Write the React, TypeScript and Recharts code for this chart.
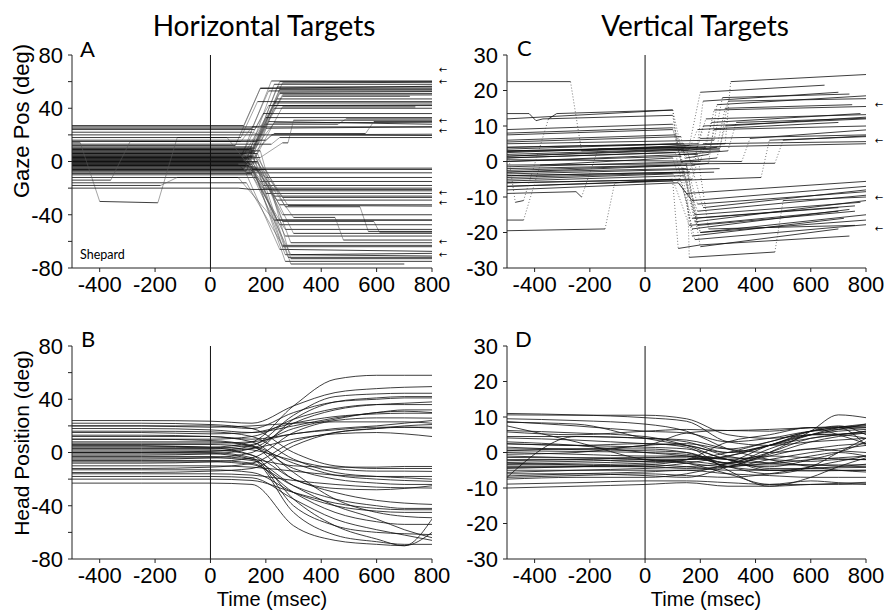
import { LineChart, Line, XAxis, YAxis, ReferenceLine, ReferenceDot } from "recharts";

const FONT = "Liberation Sans, Arial, sans-serif";
const TITLE_FONT = "Lato, 'Open Sans', sans-serif";

const timeTicks = [-400, -200, 0, 200, 400, 600, 800];
const horizTicks = [-80, -60, -40, -20, 0, 20, 40, 60, 80];
const vertTicks = [-30, -20, -10, 0, 10, 20, 30];

// target markers (deg) drawn as arrows right of the gaze panels
const gazeHArrows = [69, 60, 31, 23, -23, -31, -60, -70];
const gazeVArrows = [16, 6, -10, -19];

// gaze traces: time, value pairs
const gazeH: number[][] = [
  [-500, 3, 110, 3, 220, 60.5, 800, 60.5],
  [-500, -2, 130, -2, 250, 60, 800, 60],
  [-500, 8, 150, 8, 260, 59, 800, 59.5],
  [-500, 1, 130, 1, 230, 58, 800, 58],
  [-500, 12, 90, 12, 180, 55, 800, 56.5],
  [-500, 0, 140, 0, 240, 56, 800, 56],
  [-500, 27, 120, 27, 180, 55, 800, 55],
  [-500, -7, 130, -7, 250, 54, 800, 54],
  [-500, 25, 150, 25, 210, 53, 800, 53],
  [-500, -6, 120, -6, 250, 52, 800, 52.5],
  [-500, 9, 140, 9, 250, 51, 800, 51],
  [-500, 5, 140, 5, 260, 50, 800, 50],
  [-500, 15, 170, 15, 260, 49, 720, 49],
  [-500, -4, 150, -4, 240, 47, 800, 47],
  [-500, 18, 110, 18, 170, 45, 800, 45],
  [-500, -3, 130, -3, 230, 44, 800, 44],
  [-500, 10, 150, 10, 230, 42, 800, 42],
  [-500, 24, 160, 24, 210, 42, 800, 42.5],
  [-500, 2, 160, 2, 260, 41, 740, 41],
  [-500, 20, 180, 20, 230, 40, 800, 40],
  [-500, 4, 110, 4, 190, 36, 800, 36],
  [-500, 5, 120, 5, 200, 33, 800, 33],
  [-500, 26, 170, 26, 200, 28, 460, 28, 490, 32, 800, 32],
  [-500, 10, 160, 10, 230, 29, 800, 29.5],
  [-500, -1, 130, -1, 210, 30, 800, 28],
  [-500, 0, 140, 0, 200, 25, 800, 26],
  [-500, 16, 200, 16, 230, 21, 560, 21, 590, 30, 800, 30],
  [-500, 22, 150, 22, 180, 20, 800, 19.5],
  [-500, 7, 160, 7, 220, 20, 800, 20.5],
  [-500, 3, 180, 3, 260, 14, 280, 14, 300, 31, 800, 31],
  [-500, 13, 220, 13, 250, 18, 800, 18],
  [-500, 6, 120, 6, 150, -5, 800, -5],
  [-500, -2, 100, -2, 130, -8.5, 800, -8.5],
  [-500, -3, 140, -3, 200, -12, 800, -12],
  [-500, 1, 130, 1, 180, -15, 800, -15],
  [-500, 1, 120, 1, 190, -18, 800, -18],
  [-500, -9, 150, -9, 190, -20, 800, -20],
  [-500, 3, 140, 3, 220, -22, 800, -22],
  [-500, -12, 170, -12, 200, -24, 800, -24],
  [-500, 6, 130, 6, 230, -26, 800, -26],
  [-500, -1, 170, -1, 260, -27, 800, -27],
  [-500, -8, 160, -8, 240, -29, 800, -29],
  [-500, -4, 160, -4, 250, -32.5, 800, -32.5],
  [-500, 9, 150, 9, 280, -33, 800, -33.5],
  [-500, -6, 200, -6, 270, -34, 540, -34, 570, -52.5, 800, -52.5],
  [-500, 4, 150, 4, 260, -40, 800, -40],
  [-500, 2, 130, 2, 240, -44, 800, -44],
  [-500, 11, 150, 11, 260, -45, 590, -45, 610, -53, 800, -53],
  [-500, -3, 140, -3, 250, -47.5, 800, -47.5],
  [-500, 0, 120, 0, 270, -51, 800, -51],
  [-500, 4, 160, 4, 300, -54, 800, -54],
  [-500, -1, 140, -1, 270, -56, 800, -56],
  [-500, -7, 180, -7, 300, -42, 450, -42, 480, -59, 800, -59],
  [-500, 6, 170, 6, 290, -61, 800, -61],
  [-500, -16, 130, -16, 260, -63, 800, -63],
  [-500, 7, 150, 7, 260, -64, 800, -64],
  [-500, -5, 120, -5, 250, -66, 800, -67.5],
  [-500, 2, 140, 2, 270, -70, 800, -71],
  [-500, -10, 150, -10, 290, -70, 800, -69],
  [-500, -5, 170, -5, 280, -72, 800, -72],
  [-500, 8, 180, 8, 290, -73, 800, -73],
  [-500, -2, 150, -2, 270, -75, 800, -75],
  [-500, 0, 170, 0, 290, -77, 700, -77],
  [-500, 14, -470, 14, -400, -30, -190, -31, -120, 18, 60, 18, 150, -6, 800, -6],
  [-500, -14, -360, -14, -290, 15, 110, 15, 150, 26, 800, 26],
  [-500, -18, -180, -18, -120, -12, 100, -12, 230, -44, 800, -44],
  [-500, -20, 100, -20, 150, -21, 800, -21],
];

const gazeV: number[][] = [
  [-500, 2.5, 150, 4.5, 290, 5, 310, 22.5, 800, 24.5],
  [-500, 22.5, -270, 22.5, -230, 3, 160, 4.5, 200, 19.5, 650, 21.5],
  [-500, -3, 180, -1, 210, 17, 700, 19.5],
  [-500, 5, 250, 6, 280, 18, 740, 19],
  [-500, 1, 270, 3, 300, 17, 800, 17.7],
  [-500, 3.5, 140, 5, 170, -1, 230, -0.5, 260, 16, 800, 18.5],
  [-500, 7.5, 100, 9, 130, 3, 260, 4, 290, 15, 750, 16],
  [-500, 3, 220, 4, 250, 14.5, 800, 15.5],
  [-500, -1.5, 200, 0, 240, 11, 780, 13.5],
  [-500, 12, 100, 14.5, 130, 4, 190, 4, 220, 12, 800, 13.2],
  [-500, 9, 100, 10.5, 140, 2, 300, 3, 330, 11, 800, 12.2],
  [-500, 8, 100, 9.5, 130, 0, 260, 1, 290, 10, 800, 12.5],
  [-500, 4, 190, 5, 210, 10, 800, 12],
  [-500, 1.5, 160, 3.5, 190, 9, 700, 11],
  [-500, 6, 110, 7.5, 150, 1, 230, 2, 250, 9, 800, 10],
  [-500, 0.5, 350, 0, 380, 6.5, 800, 8.9],
  [-500, -1, 470, -0.5, 500, 6, 800, 7.2],
  [-500, -4, 160, -3, 200, 6.5, 800, 7.5],
  [-500, -6, 170, -5, 210, 5, 800, 5.6],
  [-500, -7, 420, -4.5, 450, 6, 800, 7],
  [-500, -5, 100, -3.5, 150, -9, 800, -5.6],
  [-500, -8, 120, -6, 170, -11, 800, -7],
  [-500, -2.5, 150, -1, 190, -12, 800, -8.5],
  [-500, -2, 130, -1, 190, -14, 800, -9.5],
  [-500, 3, 120, 4, 180, -17, 800, -11],
  [-500, -4, 140, -3, 180, -15, 780, -11.5],
  [-500, 0, 130, 1.5, 180, -16, 700, -13],
  [-500, 1, 110, 2.5, 170, -19, 740, -13.5],
  [-500, 5.5, 130, 7, 190, -18, 760, -14],
  [-500, -3, 150, -2, 200, -20, 800, -15],
  [-500, 4, 120, 5, 170, -21, 720, -16],
  [-500, -5.5, 140, -4, 200, -20, 800, -16.5],
  [-500, -6, 130, -5, 180, -22, 800, -17.8],
  [-500, 2, 140, 3.5, 200, -24, 700, -19],
  [-500, -7, 100, -5.5, 120, -24.5, 200, -23.5, 740, -21],
  [-500, 0, 150, 2, 160, -27, 470, -25.5, 500, -11, 800, -10],
  [-500, -9, -250, -8.5, -230, -10, -170, 3.5, 150, 4, 210, -13, 800, -8],
  [-500, -19.5, -145, -19, -110, -6, 100, -5, 160, -18, 700, -14],
  [-500, -16.5, -440, -16.5, -380, -1, 100, 1, 170, -16, 760, -12.5],
  [-500, 4.5, -470, -11.5, -440, -11, -350, 12, -320, 13.5, 100, 14.5, 120, 2, 190, 2, 230, -19, 760, -18],
  [-500, 13.5, -420, 13.5, -395, 11.5, -370, 12, 100, 13, 120, 4, 800, 5],
  [-500, 1.5, 270, 3.5],
  [-500, -3.5, 270, -2],
  [-500, 2.8, 270, 3.8],
  [-500, -4.5, 250, -3],
];

// head traces: values at headTimes
const headTimes = [-500, -250, 0, 150, 300, 450, 600, 700, 800];

const headH: number[][] = [
  [5, 5, 4, 8, 35, 55, 58, 58, 58],
  [24, 24, 23.5, 22, 35, 45, 48, 49, 49.5],
  [0, 0, 1, 5, 28, 42, 44, 44.5, 44.5],
  [-5, -5, -4, 0, 25, 38, 41, 42, 42],
  [20, 20, 20, 18, 30, 38, 40, 41, 41],
  [10, 10, 10, 12, 25, 33, 36, 36, 36],
  [-2, -2, -1, 3, 22, 32, 36, 37, 38],
  [15, 15, 14, 15, 22, 27, 29, 29.5, 29.5],
  [3, 3, 3, 6, 18, 25, 30, 31, 30],
  [-8, -8, -7, -4, 15, 24, 26, 26, 25.8],
  [20, 20, 19, 20, 22, 23, 23, 23, 22],
  [12, 12, 12, 10, 14, 18, 20, 22, 24],
  [7, 7, 7, 8, 14, 17, 19, 19, 18.3],
  [-12, -12, -11, -8, 8, 15, 18, 20, 21],
  [-15, -15, -14, -12, 5, 15, 18, 19, 19],
  [1, 1, 1, 3, 10, 14, 15, 14, 12],
  [18, 18, 17, 15, 20, 26, 30, 32, 32],
  [-3, -3, -3, -5, -10, -11, -11, -10.5, -10.5],
  [5, 5, 4, 2, -6, -12, -14, -14, -14.2],
  [-10, -10, -10, -11, -14, -17, -18, -18, -18],
  [8, 8, 8, 5, -8, -17, -20, -21, -21.7],
  [6, 6, 6, 4, -12, -20, -23, -24, -24],
  [-16, -16, -16, -17, -21, -24, -26, -26.5, -26.7],
  [2, 2, 2, -2, -20, -30, -36, -38, -39],
  [-7, -7, -7, -9, -25, -35, -40, -42, -42],
  [-20, -20, -20, -21, -30, -38, -42, -43, -43],
  [13, 13, 12, 8, -15, -35, -45, -48, -49],
  [-6, -6, -6, -8, -30, -45, -52, -54, -54],
  [0, 0, 0, -4, -40, -55, -60, -61, -61.7],
  [-1, -1, -1, -5, -45, -62, -67, -69, -69],
  [-23, -23, -23, -24, -55, -66, -69, -70, -50],
  [4, 4, 3.5, -2, -35, -55, -65, -70, -60],
  [-13, -13, -13, -15, -30, -40, -44, -45, -45],
  [10, 10, 9, 5, -20, -27, -28, -27, -25],
  [-4, -4, -4, -6, -25, -40, -50, -58, -64],
  [16, 16, 15.5, 12, -5, -15, -18, -19, -20],
  [22, 22, 21, 18, 0, -10, -12, -12, -12],
  [-18, -18, -18, -19, -35, -50, -58, -62, -66],
];

const headV: number[][] = [
  [11, 10.6, 9.8, 8.8, 3, 2, 3, 3.5, 4],
  [10.6, 10.5, 10.5, 9.5, 5, 4, 5, 5.2, 5.5],
  [9.5, 9, 8, 6, 1, -2, -4, -5, -5.5],
  [8.7, 7.5, 6, 5.5, 3, 4, 6, 6.5, 7],
  [8.5, 8, 4, 2, 0, 2, 5, 6.5, 8],
  [6.2, 5.5, 4.5, 2, -2, -3, -2, -1.5, -1],
  [5.8, 5, 6, 6.5, 6.2, 6.5, 7, 7.3, 7.5],
  [4.5, 4.5, 4, 3.5, 1, 0, 1, 2, 2.5],
  [4.1, 3.5, 2.5, 2, -1, -3, -3.5, -3.8, -4],
  [2.4, 2, 1.5, 1, -2, -5, -5, -5, -5],
  [1.5, 0.8, 0.5, 0, -3, 1, 5, 7, 8],
  [0.5, 0.3, 0, -0.5, -2, -1, -1.5, -1.8, -2],
  [0, -0.5, -1, -1, -4, -6, -4, 0, 4],
  [-0.5, 0, 2, 2.5, 1, 3, 6, 7, 7.5],
  [-1.4, -1.5, -1.5, -1, -2, -4.5, -4.5, -4.3, -4.2],
  [-2.3, -2, -1.5, -1.5, -3, -0.5, 3, 4.5, 5.5],
  [-2.8, -2.5, -2, -2, -1.5, -2, -2.5, -2, -2],
  [-3.3, -3, -2.5, -2, 0, 3, 6, 7, 7],
  [-4.2, -4, -3.5, -4, -5, -5, -4.5, -4, -3.3],
  [-5.6, -5, -4.5, -4, -3, 0, 4, 5, 6],
  [-6.6, -6, -5.5, -5, -6, -6.5, -7, -7, -7],
  [-7, -6.5, -6, -6.5, -7, -6, -4, -2.5, -1],
  [-7.5, -7, -7, -6, -3, 2, 5, 6, 6.5],
  [-8.9, -8.5, -8, -8, -8.5, -9, -9, -9, -8.8],
  [-10, -9.5, -9, -8.5, -9.5, -9.5, -9, -8.7, -8.4],
  [-7, 4.5, 4, 3, 0, 2, 4, 5, 6],
  [7.5, 3, -2, -3, -4, -2, 0, 1, 2],
  [-3, -3.5, -4, -3, -1, 2, 5, 5, 4],
  [0.5, 1, 1, 0, -4, -5, -5.2, -5.1, -5],
  [-1, -1.5, -2, -3, -6, -9, -8, -8.5, -9],
  [2.5, 2, 2.5, 1.5, -5, -9.5, -7, -4, -1.5],
  [-4.5, -4, -3.5, -2, 3, 5, 7, 5, 2.5],
  [-2, -2, -2.5, -2, -1, 2, 6, 7.5, 5],
  [-5, -5, -5, -5, -4, 0, 6, 10.6, 9.8],
  [-3.5, -3.5, -3, -2.5, -3.5, -3.5, -3.5, -3.5, -3.5],
  [-6, -6, -6.5, -7, -4, -1, 1, 0.5, 0],
  [1, 1, 2, 5.5, 6.2, 6, 7, 7, 2],
  [3, 2, 0, -1, -3, -4, -2, 0, 3],
  [-4, -4, -4, -4.5, -4, -3, -1, 0, -1],
];

type Pt = { t: number; v: number };
type Seg = { fast: boolean; pts: Pt[] };

const toPairs = (row: number[]): Pt[] => {
  const out: Pt[] = [];
  for (let i = 0; i < row.length; i += 2) out.push({ t: row[i], v: row[i + 1] });
  return out;
};

// split a gaze trace into fixation and saccade pieces
function splitTrace(pts: Pt[], fastRate: number): Seg[] {
  const segs: Seg[] = [];
  for (let i = 1; i < pts.length; i++) {
    const a = pts[i - 1];
    const b = pts[i];
    const fast = Math.abs((b.v - a.v) / (b.t - a.t)) > fastRate;
    const last = segs[segs.length - 1];
    if (last && last.fast === fast) last.pts.push(b);
    else segs.push({ fast, pts: [a, b] });
  }
  return segs;
}

type FastStyle = { stroke: string; strokeWidth: number; strokeDasharray?: string };

type PanelProps = {
  left: number;
  top: number;
  width: number;
  height: number;
  marginTop: number;
  rightPad: number;
  xAxisHeight: number;
  yDomain: [number, number];
  yTicks: number[];
  labelStep: number;
  segs: Seg[];
  curve: "linear" | "monotone";
  fastStyle?: FastStyle;
  arrows?: number[];
  arrowDx?: number;
};

const tickStyle = { fill: "#000", fontSize: 22, fontFamily: FONT };

function Panel(p: PanelProps) {
  return (
    <div style={{ position: "absolute", left: p.left, top: p.top }}>
      <LineChart
        width={p.width}
        height={p.height}
        margin={{ top: p.marginTop, right: p.rightPad, bottom: 0, left: 0 }}
      >
        <XAxis
          dataKey="t"
          type="number"
          domain={[-500, 800]}
          allowDataOverflow
          ticks={timeTicks}
          interval={0}
          height={p.xAxisHeight}
          tickSize={4}
          tickMargin={4}
          stroke="#222"
          tick={tickStyle}
        />
        <YAxis
          type="number"
          domain={p.yDomain}
          allowDataOverflow
          ticks={p.yTicks}
          interval={0}
          width={72}
          tickSize={4}
          tickMargin={5}
          stroke="#222"
          tick={tickStyle}
          tickFormatter={(v: number) => (v % p.labelStep === 0 ? String(v) : "")}
        />
        <ReferenceLine x={0} stroke="#111" strokeWidth={1} />
        {p.segs.map((s, i) => (
          <Line
            key={i}
            data={s.pts}
            dataKey="v"
            type={p.curve}
            dot={false}
            activeDot={false}
            stroke={s.fast && p.fastStyle ? p.fastStyle.stroke : "#111"}
            strokeWidth={s.fast && p.fastStyle ? p.fastStyle.strokeWidth : 0.9}
            strokeDasharray={s.fast && p.fastStyle ? p.fastStyle.strokeDasharray : undefined}
            strokeOpacity={0.9}
            isAnimationActive={false}
          />
        ))}
        {(p.arrows || []).map((a) => (
          <ReferenceDot
            key={"arrow" + a}
            x={800}
            y={a}
            r={0}
            ifOverflow="visible"
            shape={(props: any) => (
              <text
                x={props.cx + (p.arrowDx || 0)}
                y={props.cy}
                dy="0.35em"
                textAnchor="middle"
                fontSize={10}
                fontFamily="'DejaVu Sans', sans-serif"
                fill="#000"
              >
                ←
              </text>
            )}
          />
        ))}
      </LineChart>
    </div>
  );
}

const headSegs = (rows: number[][]): Seg[] =>
  rows.map((row) => ({ fast: false, pts: headTimes.map((t, i) => ({ t, v: row[i] })) }));

const gazeSegs = (rows: number[][], rate: number): Seg[] =>
  rows.flatMap((row) => splitTrace(toPairs(row), rate));

export default function App() {
  return (
    <div style={{ position: "absolute", left: 0, top: 0, width: 888, height: 610, background: "#fff", overflow: "hidden" }}>
      <Panel
        left={0} top={0} width={460} height={310} marginTop={55} rightPad={28} xAxisHeight={42}
        yDomain={[-80, 80]} yTicks={horizTicks} labelStep={40}
        segs={gazeSegs(gazeH, 0.05)} curve="linear"
        fastStyle={{ stroke: "#555", strokeWidth: 0.6 }}
        arrows={gazeHArrows} arrowDx={11}
      />
      <Panel
        left={435} top={0} width={453} height={310} marginTop={55} rightPad={22} xAxisHeight={42}
        yDomain={[-30, 30]} yTicks={vertTicks} labelStep={10}
        segs={gazeSegs(gazeV, 0.1)} curve="linear"
        fastStyle={{ stroke: "#444", strokeWidth: 0.8, strokeDasharray: "1 2" }}
        arrows={gazeVArrows} arrowDx={13}
      />
      <Panel
        left={0} top={300} width={460} height={310} marginTop={46} rightPad={28} xAxisHeight={51}
        yDomain={[-80, 80]} yTicks={horizTicks} labelStep={40}
        segs={headSegs(headH)} curve="monotone"
      />
      <Panel
        left={435} top={300} width={453} height={310} marginTop={46} rightPad={22} xAxisHeight={51}
        yDomain={[-30, 30]} yTicks={vertTicks} labelStep={10}
        segs={headSegs(headV)} curve="monotone"
      />
      <svg width={888} height={610} style={{ position: "absolute", left: 0, top: 0, pointerEvents: "none" }}>
        <text x={264} y={36} textAnchor="middle" fontSize={28} fontFamily={TITLE_FONT} fill="#000">Horizontal Targets</text>
        <text x={695} y={36} textAnchor="middle" fontSize={28} fontFamily={TITLE_FONT} fill="#000">Vertical Targets</text>
        <text x={80} y={57} fontSize={22} fontFamily={TITLE_FONT} fill="#000">A</text>
        <text x={81} y={347} fontSize={22} fontFamily={TITLE_FONT} fill="#000">B</text>
        <text x={517} y={56} fontSize={22} fontFamily={TITLE_FONT} fill="#000">C</text>
        <text x={515} y={347} fontSize={22} fontFamily={TITLE_FONT} fill="#000">D</text>
        <text x={80} y={259} fontSize={12.5} fontFamily={TITLE_FONT} fill="#000">Shepard</text>
        <text x={29} y={121} transform="rotate(-90 29 121)" textAnchor="middle" fontSize={22} fontFamily={FONT} fill="#000">Gaze Pos (deg)</text>
        <text x={29} y={443} transform="rotate(-90 29 443)" textAnchor="middle" fontSize={21} fontFamily={FONT} fill="#000">Head Position (deg)</text>
        <text x={272} y={606} textAnchor="middle" fontSize={20} fontFamily={FONT} fill="#000">Time (msec)</text>
        <text x={706} y={606} textAnchor="middle" fontSize={20} fontFamily={FONT} fill="#000">Time (msec)</text>
      </svg>
    </div>
  );
}
